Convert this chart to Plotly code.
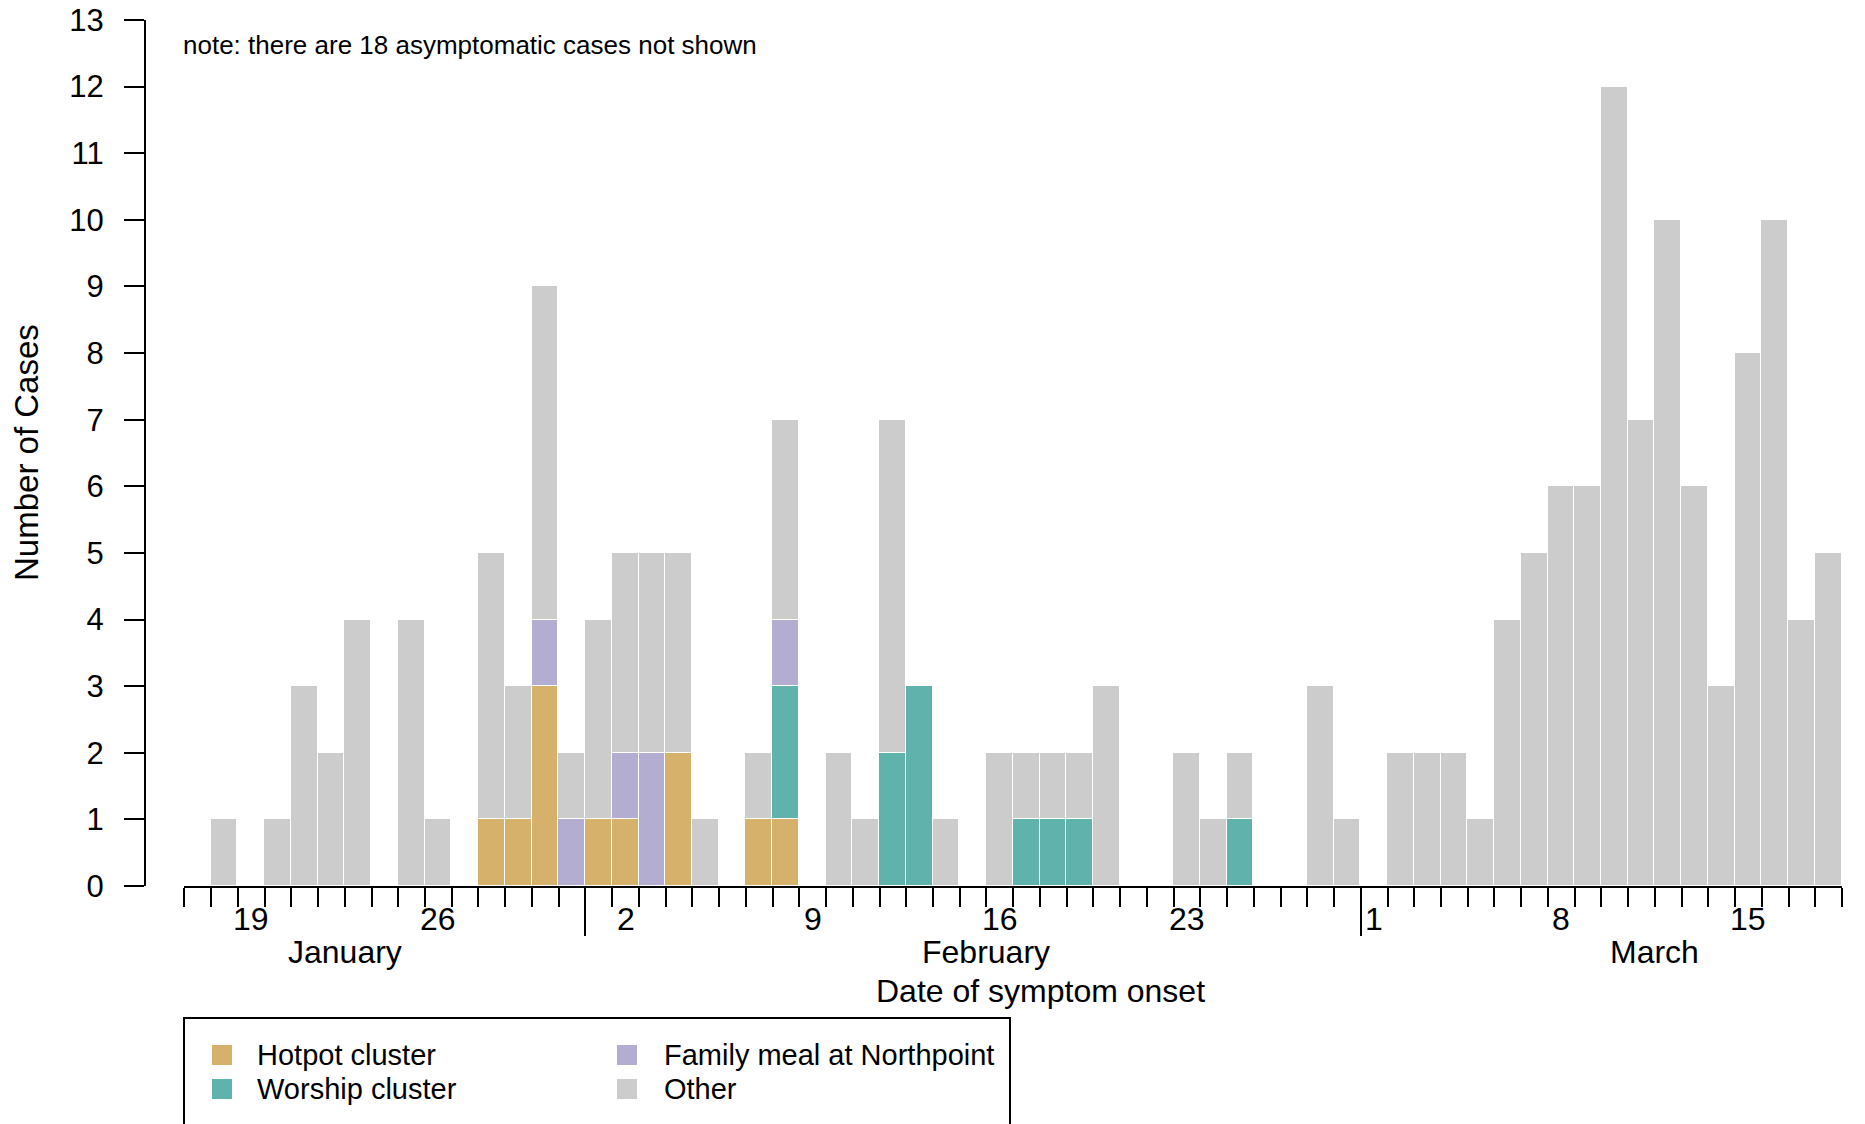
import pandas as pd
import plotly.graph_objects as go

# Daily symptom-onset counts, 17 Jan - 18 Mar 2020
dates = [d.strftime("%Y-%m-%d") for d in pd.date_range("2020-01-17", "2020-03-18", freq="D")]

hotpot = [0, 0, 0, 0, 0, 0, 0, 0, 0, 0, 0, 1, 1, 3, 0,
          1, 1, 0, 2, 0, 0, 1, 1, 0, 0, 0, 0, 0, 0, 0, 0, 0, 0, 0, 0, 0, 0, 0, 0, 0, 0, 0, 0, 0,
          0, 0, 0, 0, 0, 0, 0, 0, 0, 0, 0, 0, 0, 0, 0, 0, 0, 0]
worship = [0, 0, 0, 0, 0, 0, 0, 0, 0, 0, 0, 0, 0, 0, 0,
           0, 0, 0, 0, 0, 0, 0, 2, 0, 0, 0, 2, 3, 0, 0, 0, 1, 1, 1, 0, 0, 0, 0, 0, 1, 0, 0, 0, 0,
           0, 0, 0, 0, 0, 0, 0, 0, 0, 0, 0, 0, 0, 0, 0, 0, 0, 0]
family = [0, 0, 0, 0, 0, 0, 0, 0, 0, 0, 0, 0, 0, 1, 1,
          0, 1, 2, 0, 0, 0, 0, 1, 0, 0, 0, 0, 0, 0, 0, 0, 0, 0, 0, 0, 0, 0, 0, 0, 0, 0, 0, 0, 0,
          0, 0, 0, 0, 0, 0, 0, 0, 0, 0, 0, 0, 0, 0, 0, 0, 0, 0]
other = [0, 1, 0, 1, 3, 2, 4, 0, 4, 1, 0, 4, 2, 5, 1,
         3, 3, 3, 3, 1, 0, 1, 3, 0, 2, 1, 5, 0, 1, 0, 2, 1, 1, 1, 3, 0, 0, 2, 1, 1, 0, 0, 3, 1,
         0, 2, 2, 2, 1, 4, 5, 6, 6, 12, 7, 10, 6, 3, 8, 10, 4, 5]

series_names = ["Hotpot cluster", "Worship cluster", "Family meal at Northpoint", "Other"]
series_colors = ["#D6B16B", "#5FB3AC", "#B2ADD1", "#CCCCCC"]

sunday_dates = ["2020-01-19", "2020-01-26", "2020-02-02", "2020-02-09", "2020-02-16",
                "2020-02-23", "2020-03-01", "2020-03-08", "2020-03-15"]
sunday_labels = ["19", "26", "2", "9", "16", "23", "1", "8", "15"]
month_names = ["January", "February", "March"]
month_label_x = ["2020-01-23", "2020-02-16", "2020-03-12"]
month_starts = ["2020-02-01", "2020-03-01"]

# ---- page geometry (pixels) ----
W, H = 1865, 1124
ML, MR, MT, MB = 145, 23, 20, 238
PW, PH = W - ML - MR, H - MT - MB
X_START = 184.4  # left end of the date axis


def px_x(x):
    return (x - ML) / PW


def px_y(y):
    return (H - MB - y) / PH


FONT = "Liberation Sans, Arial, Helvetica, sans-serif"
DAY_MS = 86400000

fig = go.Figure()
for name, vals, col in zip(series_names, [hotpot, worship, family, other], series_colors):
    fig.add_trace(go.Bar(
        x=dates,
        y=[v if v > 0 else None for v in vals],
        name=name,
        xperiod=DAY_MS,
        xperiodalignment="middle",
        marker=dict(color=col, line=dict(color="white", width=1.5)),
        showlegend=False,
    ))

annotations = []
# note at top
annotations.append(dict(
    x=dates[0], xref="x", y=px_y(45), yref="paper", xshift=-3,
    text="note: there are 18 asymptomatic cases not shown",
    showarrow=False, xanchor="left", yanchor="middle",
    font=dict(family=FONT, size=26, color="black"),
))
# day-of-month labels under Sundays
for d, lab in zip(sunday_dates, sunday_labels):
    annotations.append(dict(
        x=d + " 12:00", xref="x", y=px_y(919), yref="paper", text=lab,
        showarrow=False, xanchor="center", yanchor="middle",
        font=dict(family=FONT, size=32, color="black"),
    ))
# month labels
for d, lab in zip(month_label_x, month_names):
    annotations.append(dict(
        x=d, xref="x", y=px_y(952), yref="paper", text=lab,
        showarrow=False, xanchor="center", yanchor="middle",
        font=dict(family=FONT, size=32, color="black"),
    ))
# axis titles
annotations.append(dict(
    x=px_x(1040.5), xref="paper", y=px_y(991), yref="paper",
    text="Date of symptom onset", showarrow=False,
    xanchor="center", yanchor="middle",
    font=dict(family=FONT, size=32, color="black"),
))
annotations.append(dict(
    x=px_x(26), xref="paper", y=0.5, yref="paper",
    text="Number of Cases", textangle=-90, showarrow=False,
    xanchor="center", yanchor="middle",
    font=dict(family=FONT, size=33, color="black"),
))

# legend box
shapes = [dict(
    type="rect", xref="paper", yref="paper",
    x0=px_x(184), x1=px_x(1010), y0=px_y(1018), y1=px_y(1160),
    line=dict(color="black", width=2), fillcolor="rgba(0,0,0,0)",
)]
legend_cols = [(212, 255), (617, 662)]
legend_rows = [1055, 1089]
legend_slots = [(0, 0), (1, 0), (0, 1), (1, 1)]  # (row, col) per series
for name, col, (r, c) in zip(series_names, series_colors, legend_slots):
    sx, tx = legend_cols[c]
    cy = legend_rows[r]
    shapes.append(dict(
        type="rect", xref="paper", yref="paper",
        x0=px_x(sx), x1=px_x(sx + 20), y0=px_y(cy - 10), y1=px_y(cy + 10),
        line=dict(width=0), fillcolor=col,
    ))
    annotations.append(dict(
        x=px_x(tx), xref="paper", y=px_y(cy), yref="paper", text=name,
        showarrow=False, xanchor="left", yanchor="middle",
        font=dict(family=FONT, size=29, color="black"),
    ))

fig.update_layout(
    width=W, height=H,
    margin=dict(l=ML, r=MR, t=MT, b=MB, autoexpand=False),
    paper_bgcolor="white", plot_bgcolor="white",
    barmode="stack", bargap=0,
    font=dict(family=FONT, color="black"),
    annotations=annotations,
    shapes=shapes,
    xaxis=dict(
        type="date",
        range=["2020-01-17", "2020-03-19"],
        domain=[px_x(X_START), 1],
        showgrid=False, zeroline=False,
        showline=True, linecolor="black", linewidth=2,
        tickmode="array", tickvals=month_starts,
        ticks="outside", ticklen=48, tickwidth=2, tickcolor="black",
        showticklabels=False,
        minor=dict(ticks="outside", ticklen=19, tickwidth=2, tickcolor="black",
                   tick0="2020-01-17", dtick=DAY_MS, showgrid=False),
        layer="above traces",
    ),
    yaxis=dict(
        range=[0, 13],
        anchor="free", position=0,
        showgrid=False, zeroline=False,
        showline=True, linecolor="black", linewidth=2,
        tickmode="linear", tick0=0, dtick=1,
        ticks="outside", ticklen=20, tickwidth=2, tickcolor="black",
        ticklabelstandoff=14,
        tickfont=dict(family=FONT, size=31, color="black"),
        layer="above traces",
    ),
)

fig.write_html("out.html")
